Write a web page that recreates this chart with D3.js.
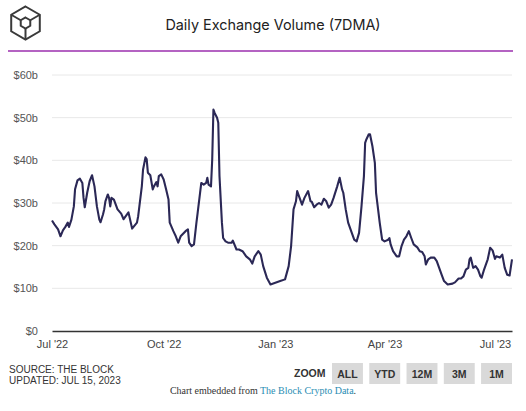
<!DOCTYPE html>
<html><head><meta charset="utf-8">
<script src="https://cdn.jsdelivr.net/npm/d3@7"></script>
<style>
html,body{margin:0;padding:0;background:#fff;}
svg{display:block;}
</style></head>
<body>
<svg id="chart" width="526" height="411"></svg>
<script>
const title = "Daily Exchange Volume (7DMA)";
const dates = ["2022-07-01","2022-07-03","2022-07-06","2022-07-08","2022-07-10","2022-07-12","2022-07-14","2022-07-15","2022-07-17","2022-07-19","2022-07-20","2022-07-22","2022-07-24","2022-07-26","2022-07-27","2022-07-28","2022-07-30","2022-08-01","2022-08-03","2022-08-05","2022-08-07","2022-08-09","2022-08-10","2022-08-12","2022-08-13","2022-08-14","2022-08-16","2022-08-17","2022-08-18","2022-08-19","2022-08-21","2022-08-24","2022-08-27","2022-08-29","2022-09-02","2022-09-05","2022-09-09","2022-09-10","2022-09-13","2022-09-14","2022-09-16","2022-09-17","2022-09-18","2022-09-20","2022-09-22","2022-09-23","2022-09-25","2022-09-26","2022-09-27","2022-09-29","2022-10-01","2022-10-03","2022-10-05","2022-10-06","2022-10-09","2022-10-11","2022-10-13","2022-10-15","2022-10-17","2022-10-19","2022-10-21","2022-10-22","2022-10-24","2022-10-26","2022-10-28","2022-10-29","2022-10-31","2022-11-01","2022-11-03","2022-11-05","2022-11-06","2022-11-07","2022-11-09","2022-11-10","2022-11-11","2022-11-12","2022-11-14","2022-11-15","2022-11-16","2022-11-18","2022-11-19","2022-11-21","2022-11-23","2022-11-26","2022-11-27","2022-11-30","2022-12-02","2022-12-05","2022-12-08","2022-12-11","2022-12-13","2022-12-15","2022-12-18","2022-12-20","2022-12-22","2022-12-25","2022-12-28","2023-01-01","2023-01-05","2023-01-09","2023-01-12","2023-01-14","2023-01-16","2023-01-18","2023-01-19","2023-01-21","2023-01-23","2023-01-25","2023-01-28","2023-01-30","2023-01-31","2023-02-02","2023-02-04","2023-02-06","2023-02-08","2023-02-10","2023-02-12","2023-02-14","2023-02-16","2023-02-18","2023-02-21","2023-02-23","2023-02-25","2023-02-26","2023-02-28","2023-03-02","2023-03-05","2023-03-07","2023-03-09","2023-03-11","2023-03-13","2023-03-15","2023-03-16","2023-03-17","2023-03-19","2023-03-20","2023-03-22","2023-03-24","2023-03-25","2023-03-28","2023-03-30","2023-04-01","2023-04-04","2023-04-05","2023-04-06","2023-04-08","2023-04-11","2023-04-13","2023-04-15","2023-04-17","2023-04-19","2023-04-21","2023-04-23","2023-04-25","2023-04-28","2023-04-30","2023-05-02","2023-05-04","2023-05-05","2023-05-07","2023-05-09","2023-05-12","2023-05-14","2023-05-16","2023-05-18","2023-05-20","2023-05-23","2023-05-27","2023-05-29","2023-06-01","2023-06-03","2023-06-05","2023-06-07","2023-06-09","2023-06-10","2023-06-11","2023-06-13","2023-06-15","2023-06-17","2023-06-19","2023-06-20","2023-06-22","2023-06-25","2023-06-27","2023-06-29","2023-07-01","2023-07-02","2023-07-05","2023-07-07","2023-07-09","2023-07-11","2023-07-13","2023-07-15"];
const volumes = [25.9,25.0,23.8,22.2,23.6,24.4,25.4,24.4,26.1,29.2,33.2,35.3,35.7,34.7,31.2,29.0,32.4,35.1,36.5,33.9,29.2,26.1,25.5,27.3,28.5,30.4,32.0,31.2,29.2,31.2,30.8,28.5,27.5,26.2,27.8,24.0,25.4,26.9,33.9,37.8,40.7,40.3,37.1,36.5,33.2,33.9,34.9,33.9,36.3,36.7,35.5,33.2,30.8,25.4,23.4,22.2,20.7,22.2,22.8,23.4,23.8,20.7,19.9,20.3,25.4,27.7,32.4,34.7,34.3,34.7,35.9,34.3,33.9,40.2,51.9,51.1,50.0,48.8,36.3,25.4,21.8,21.0,20.7,20.7,21.2,19.1,19.1,18.7,17.5,16.8,15.8,17.5,18.7,17.9,15.2,12.5,10.9,11.3,11.7,12.1,15.2,19.9,28.5,30.4,32.8,31.2,29.6,31.2,32.8,30.4,30.3,29.0,29.6,30.0,29.6,31.0,30.4,28.9,29.6,31.2,33.9,35.9,33.2,32.4,28.5,25.4,23.0,21.4,21.0,23.0,29.2,36.3,44.1,44.9,46.1,46.1,43.3,39.4,32.4,25.4,21.4,21.0,21.4,21.8,20.3,18.7,17.5,17.5,19.9,21.4,22.2,23.4,21.8,20.3,19.6,18.7,18.5,17.5,15.6,16.8,17.2,17.2,16.4,14.8,13.2,11.7,10.9,11.1,11.4,12.3,12.3,12.8,14.4,14.8,16.8,17.2,14.8,15.2,14.4,12.8,12.5,14.4,16.8,19.5,18.9,16.9,17.5,17.2,17.9,14.8,13.2,13.0,16.8];
const yTicks = [0,10,20,30,40,50,60];
const xTickDates = ["2022-07-01","2022-10-01","2023-01-01","2023-04-01","2023-07-01"];
const xTickLabels = ["Jul '22","Oct '22","Jan '23","Apr '23","Jul '23"];
const zoomButtons = ["ALL","YTD","12M","3M","1M"];
const sourceLines = ["SOURCE: THE BLOCK","UPDATED: JUL 15, 2023"];

const parse = d3.utcParse("%Y-%m-%d");
const data = dates.map((d,i)=>({date:parse(d), v:volumes[i]}));
const svg = d3.select("#chart");

// Logo (cube outline)
const logo = svg.append("g").attr("transform","translate(25.5,23)").attr("fill","none").attr("stroke","#3a3a3a").attr("stroke-width",2);
const hex = r => d3.range(6).map(i=>{const a=Math.PI/180*(60*i-90);return [r*Math.cos(a), r*Math.sin(a)];});
const outer = hex(16.5);
logo.append("path").attr("d", d3.line()(outer)+"Z");
const inner = hex(5.5);
logo.append("path").attr("d", d3.line()(inner)+"Z");
[[5,5],[1,1],[3,3]].forEach(([o,i])=>{ logo.append("line").attr("x1",outer[o][0]).attr("y1",outer[o][1]).attr("x2",inner[i][0]).attr("y2",inner[i][1]); });

svg.append("text").attr("x",273).attr("y",30).attr("text-anchor","middle")
  .attr("font-family","Inter, Roboto, sans-serif").attr("font-size",14.4).attr("fill","#222").text(title);
svg.append("line").attr("x1",8).attr("x2",513).attr("y1",51).attr("y2",51).attr("stroke","#9b2fae").attr("stroke-width",1.5);

const x = d3.scaleUtc().domain([parse("2022-07-01"), parse("2023-07-15")]).range([52,512]);
const y = d3.scaleLinear().domain([0,60]).range([331,75]);

// gridlines
svg.append("g").selectAll("line").data(yTicks.filter(t=>t>0)).join("line")
  .attr("x1",52).attr("x2",512).attr("y1",d=>y(d)).attr("y2",d=>y(d))
  .attr("stroke","#e8e8e8").attr("stroke-width",1);

// y axis labels
const yAxis = d3.axisLeft(y).tickValues(yTicks).tickSize(0).tickPadding(0).tickFormat(d=>"$"+d+(d===0?"":"b"));
const gy = svg.append("g").attr("transform","translate(38,0)").call(yAxis);
gy.select(".domain").remove();
gy.selectAll("text").attr("font-family","Arial, 'Liberation Sans', sans-serif").attr("font-size",11).attr("fill","#555");

// x axis
const xAxis = d3.axisBottom(x).tickValues(xTickDates.map(parse)).tickSize(0).tickPadding(9)
  .tickFormat((d,i)=>xTickLabels[i]);
const gx = svg.append("g").attr("transform","translate(0,331)").call(xAxis);
gx.select(".domain").attr("stroke","#333").attr("stroke-width",1.3);
gx.selectAll("text").attr("font-family","Arial, 'Liberation Sans', sans-serif").attr("font-size",11).attr("fill","#444");

// line
svg.append("path").datum(data).attr("fill","none").attr("stroke","#2b2856").attr("stroke-width",2.1)
  .attr("stroke-linejoin","round")
  .attr("d", d3.line().x(d=>x(d.date)).y(d=>y(d.v)));

// source
svg.append("g").selectAll("text").data(sourceLines).join("text")
  .attr("x",9).attr("y",(d,i)=>373+i*11).attr("font-family","Arial, 'Liberation Sans', sans-serif")
  .attr("font-size",10).attr("fill","#333").text(d=>d);

// zoom
svg.append("text").attr("x",294).attr("y",377).attr("font-family","Arial, 'Liberation Sans', sans-serif")
  .attr("font-size",10.5).attr("font-weight","bold").attr("fill","#333").text("ZOOM");
const bx = d3.scaleBand().domain(zoomButtons).range([332,512]).paddingInner(0.17).paddingOuter(0);
const bg = svg.append("g").selectAll("g").data(zoomButtons).join("g")
  .attr("transform",d=>`translate(${bx(d)},363)`);
bg.append("rect").attr("width",bx.bandwidth()).attr("height",21).attr("fill","#d9d9d9");
bg.append("text").attr("x",bx.bandwidth()/2).attr("y",14.5).attr("text-anchor","middle")
  .attr("font-family","Arial, 'Liberation Sans', sans-serif").attr("font-size",10.5).attr("font-weight","bold").attr("fill","#333").text(d=>d);

// footer
const ft = svg.append("text").attr("x",263).attr("y",394).attr("text-anchor","middle")
  .attr("font-family","'Liberation Serif', 'Times New Roman', serif").attr("font-size",10).attr("fill","#333");
ft.append("tspan").text("Chart embedded from ");
ft.append("tspan").attr("fill","#2a8db3").text("The Block Crypto Data");
ft.append("tspan").text(".");
</script>
</body></html>
